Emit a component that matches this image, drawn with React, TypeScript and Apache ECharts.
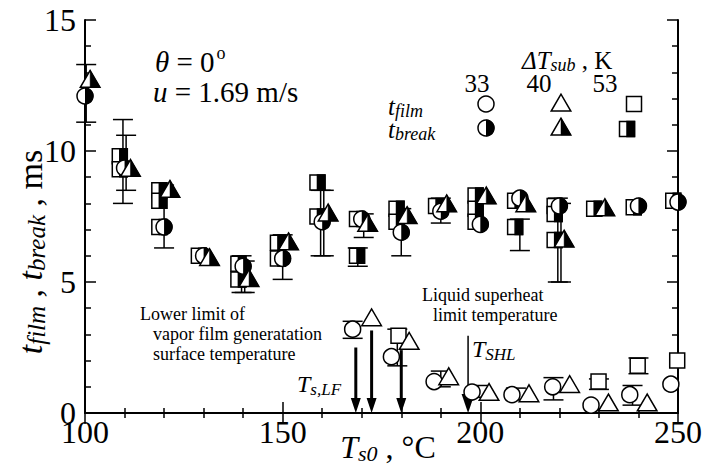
import React, { useEffect, useRef } from 'react';
import * as echarts from 'echarts';

const FONT = '"Liberation Serif", "Times New Roman", serif';

// t_break (half-filled markers), ΔT_sub = 53 K (squares)
const breakSquareX = [108.8, 108.8, 118.8, 118.8, 118.8, 128.8, 138.8, 138.8, 148.8, 148.8, 158.8, 158.8, 168.8, 168.8, 178.8, 178.8, 188.8, 198.8, 198.8, 198.8, 208.8, 208.8, 218.8, 218.8, 218.8, 228.8, 238.8, 248.8];
const breakSquareY = [9.8, 9.3, 8.5, 8.1, 7.1, 6.0, 5.7, 5.1, 6.5, 5.9, 8.8, 7.5, 7.4, 6.0, 7.8, 7.3, 7.9, 8.3, 7.8, 7.3, 8.1, 7.1, 7.9, 7.6, 6.6, 7.8, 7.85, 8.1];
// ΔT_sub = 33 K (circles)
const breakCircleX = [100, 110, 120, 130, 140, 150, 160, 170, 180, 190, 200, 210, 220, 240, 250];
const breakCircleY = [12.1, 9.35, 7.1, 6.0, 5.6, 5.9, 7.3, 7.4, 6.9, 7.7, 7.2, 8.2, 7.9, 7.9, 8.05];
// ΔT_sub = 40 K (triangles)
const breakTriX = [101.3, 111.5, 121.5, 131.5, 141.5, 151.5, 161.5, 171.5, 181.5, 191.5, 201.5, 211.5, 221.2, 231.5];
const breakTriY = [12.7, 9.3, 8.5, 5.9, 5.1, 6.5, 7.6, 7.2, 7.5, 7.95, 8.25, 7.95, 6.6, 7.8];

// t_film (open markers)
const filmCircleX = [167.7, 177.5, 188.3, 197.9, 208, 218.3, 228, 237.8, 248.2];
const filmCircleY = [3.2, 2.15, 1.2, 0.8, 0.7, 1.0, 0.3, 0.7, 1.1];
const filmTriX = [172.5, 182, 192, 202.2, 212.3, 222.6, 232.4, 242.2];
const filmTriY = [3.6, 2.7, 1.35, 0.75, 0.7, 1.05, 0.35, 0.35];
const filmSquareX = [179.3, 229.9, 239.8, 249.8];
const filmSquareY = [2.95, 1.2, 1.8, 2.0];

// error bars
const errX = [100.3, 109.6, 110.4, 120, 139.6, 140.4, 150, 159.6, 160.4, 169, 170.5, 180, 190, 210, 219.6, 220.4, 167.7, 179, 190, 199.5, 209, 218.5, 230, 240, 238.5];
const errLow = [11.1, 8.0, 8.5, 6.3, 4.6, 4.6, 5.1, 6.0, 6.0, 5.6, 6.7, 6.0, 7.25, 6.2, 5.0, 5.0, 2.85, 1.8, 1.0, 0.6, 0.5, 0.5, 0.9, 1.5, 0.3];
const errHigh = [13.3, 11.2, 10.6, 8.7, 6.0, 5.8, 6.8, 8.5, 8.5, 6.3, 7.6, 7.8, 8.2, 7.4, 8.2, 8.0, 3.5, 3.2, 1.6, 1.05, 0.95, 1.35, 1.3, 2.1, 1.05];

// arrows (x, top value, thick flag)
const arrowX = [168.5, 172.5, 180, 196.9];
const arrowTop = [2.5, 3.15, 2.4, 2.95];
const arrowThick = [1, 1, 1, 0];

const xTicks = [100, 150, 200, 250];
const yTicks = [0, 5, 10, 15];
const subCoolings = ['33', '40', '53'];

const LW = 1.5;
const R = 8;

function circleEls(cx: number, cy: number, half: boolean) {
  const els: any[] = [
    { type: 'circle', shape: { cx, cy, r: R }, style: { fill: '#fff', stroke: '#000', lineWidth: LW } },
  ];
  if (half) {
    els.push({ type: 'sector', shape: { cx, cy, r0: 0, r: R + 0.5, startAngle: -Math.PI / 2, endAngle: Math.PI / 2, clockwise: true }, style: { fill: '#000' } });
  }
  return els;
}
function triEls(cx: number, cy: number, half: boolean) {
  const top = cy - 9.8, bot = cy + 7, hw = 9.8;
  const els: any[] = [
    { type: 'polygon', shape: { points: [[cx, top], [cx - hw, bot], [cx + hw, bot]] }, style: { fill: '#fff', stroke: '#000', lineWidth: LW, lineJoin: 'miter' } },
  ];
  if (half) {
    els.push({ type: 'polygon', shape: { points: [[cx, top], [cx, bot], [cx + hw, bot]] }, style: { fill: '#000', stroke: '#000', lineWidth: 0.5 } });
  }
  return els;
}
function sqEls(cx: number, cy: number, half: boolean) {
  const h = 7.5;
  const els: any[] = [
    { type: 'rect', shape: { x: cx - h, y: cy - h, width: 2 * h, height: 2 * h }, style: { fill: '#fff', stroke: '#000', lineWidth: LW } },
  ];
  if (half) {
    els.push({ type: 'rect', shape: { x: cx, y: cy - h, width: h, height: 2 * h }, style: { fill: '#000', stroke: '#000', lineWidth: LW } });
  }
  return els;
}

function markerSeries(name: string, xs: number[], ys: number[], maker: (cx: number, cy: number, half: boolean) => any[], half: boolean, z: number) {
  return {
    type: 'custom',
    name,
    z,
    data: xs.map((x, i) => [x, ys[i]]),
    encode: { x: 0, y: 1 },
    renderItem: (params: any, api: any) => {
      const p = api.coord([api.value(0), api.value(1)]);
      return { type: 'group', children: maker(p[0], p[1], half) };
    },
  };
}

// rich-text styles with explicit line heights so subscripts drop without inflating the box
function richSet(main: number, sub: number, drop: number) {
  const lh = Math.round(main * 1.0);
  return {
    i: { fontFamily: FONT, fontSize: main, fontStyle: 'italic', lineHeight: lh },
    n: { fontFamily: FONT, fontSize: main, lineHeight: lh },
    s: { fontFamily: FONT, fontSize: sub, fontStyle: 'italic', lineHeight: lh - 2 * drop, padding: [2 * drop, 0, 0, 0] },
  };
}

const axisLineStyle = { show: true, lineStyle: { color: '#000', width: 2 } };

export default function App() {
  const ref = useRef<HTMLDivElement>(null);
  useEffect(() => {
    if (!ref.current) return;
    const chart = echarts.init(ref.current, null, { renderer: 'svg' });

    const xAxisCommon = {
      type: 'value',
      min: 100,
      max: 250,
      interval: 50,
      axisLine: axisLineStyle,
      axisTick: { show: true, inside: true, length: 11, lineStyle: { color: '#000', width: 1.5 } },
      minorTick: { show: true, splitNumber: 5, length: 5, lineStyle: { color: '#000', width: 1.5 } },
      splitLine: { show: false },
    };
    const yAxisCommon = {
      type: 'value',
      min: 0,
      max: 15,
      interval: 5,
      axisLine: axisLineStyle,
      axisTick: { show: true, inside: true, length: 11, lineStyle: { color: '#000', width: 1.5 } },
      minorTick: { show: true, splitNumber: 5, length: 6, lineStyle: { color: '#000', width: 1.5 } },
      splitLine: { show: false },
    };

    const tb = { fontFamily: FONT, fill: '#000' };
    const numX = [477, 539, 605];

    const option: any = {
      animation: false,
      backgroundColor: '#fff',
      grid: { left: 85, right: 24, top: 20, bottom: 54 },
      xAxis: [
        {
          ...xAxisCommon,
          position: 'bottom',
          axisLabel: {
            show: true, margin: 7, color: '#000', fontFamily: FONT, fontSize: 32, lineHeight: 24,
            formatter: (v: number) => (xTicks.includes(v) ? String(v) : ''),
          },
        },
        { ...xAxisCommon, position: 'top', axisLabel: { show: false } },
      ],
      yAxis: [
        {
          ...yAxisCommon,
          position: 'left',
          axisLabel: {
            show: true, margin: 9, color: '#000', fontFamily: FONT, fontSize: 32, lineHeight: 24,
            formatter: (v: number) => (yTicks.includes(v) ? String(v) : ''),
          },
        },
        { ...yAxisCommon, position: 'right', axisLabel: { show: false } },
      ],
      series: [
        {
          type: 'custom',
          name: 'err',
          z: 2,
          data: errX.map((x, i) => [x, errLow[i], errHigh[i]]),
          encode: { x: 0, y: [1, 2] },
          renderItem: (params: any, api: any) => {
            const lo = api.coord([api.value(0), api.value(1)]);
            const hi = api.coord([api.value(0), api.value(2)]);
            const w = 10;
            const st = { stroke: '#000', lineWidth: LW };
            return {
              type: 'group',
              children: [
                { type: 'line', shape: { x1: lo[0], y1: lo[1], x2: hi[0], y2: hi[1] }, style: st },
                { type: 'line', shape: { x1: lo[0] - w, y1: lo[1], x2: lo[0] + w, y2: lo[1] }, style: st },
                { type: 'line', shape: { x1: hi[0] - w, y1: hi[1], x2: hi[0] + w, y2: hi[1] }, style: st },
              ],
            };
          },
        },
        {
          type: 'custom',
          name: 'arrows',
          z: 2,
          data: arrowX.map((x, i) => [x, arrowTop[i], arrowThick[i]]),
          encode: { x: 0, y: 1 },
          renderItem: (params: any, api: any) => {
            const top = api.coord([api.value(0), api.value(1)]);
            const bot = api.coord([api.value(0), 0]);
            const thick = api.value(2) === 1;
            const hw = thick ? 5 : 6.5;
            const hh = thick ? 15 : 19;
            return {
              type: 'group',
              children: [
                { type: 'line', shape: { x1: top[0], y1: top[1], x2: bot[0], y2: bot[1] - hh + 2 }, style: { stroke: '#000', lineWidth: thick ? 3 : 1.5 } },
                { type: 'polygon', shape: { points: [[bot[0] - hw, bot[1] - hh], [bot[0] + hw, bot[1] - hh], [bot[0], bot[1]]] }, style: { fill: '#000' } },
              ],
            };
          },
        },
        markerSeries('break53', breakSquareX, breakSquareY, sqEls, true, 3),
        markerSeries('break33', breakCircleX, breakCircleY, circleEls, true, 4),
        markerSeries('break40', breakTriX, breakTriY, triEls, true, 5),
        markerSeries('film53', filmSquareX, filmSquareY, sqEls, false, 3),
        markerSeries('film33', filmCircleX, filmCircleY, circleEls, false, 4),
        markerSeries('film40', filmTriX, filmTriY, triEls, false, 5),
      ],
      graphic: [
        // condition texts
        {
          type: 'text', x: 155, y: 62,
          style: {
            ...tb, verticalAlign: 'middle',
            text: '{i|θ}{n| = 0}{sup|o}',
            rich: {
              i: { fontFamily: FONT, fontSize: 29, fontStyle: 'italic', lineHeight: 30 },
              n: { fontFamily: FONT, fontSize: 29, lineHeight: 30 },
              sup: { fontFamily: FONT, fontSize: 18, lineHeight: 12, padding: [0, 0, 18, 2] },
            },
          },
        },
        {
          type: 'text', x: 153, y: 92,
          style: { ...tb, verticalAlign: 'middle', text: '{i|u}{n| = 1.69 m/s}', rich: richSet(29, 18, 6) },
        },
        // legend header
        {
          type: 'text', x: 522, y: 60,
          style: { ...tb, verticalAlign: 'middle', text: '{i|ΔT}{s|sub}{n| , K}', rich: richSet(25, 18, 5) },
        },
        ...subCoolings.map((s, i) => ({
          type: 'text', x: numX[i], y: 83,
          style: { ...tb, text: s, fontSize: 25, lineHeight: 18, fontFamily: FONT, align: 'center', verticalAlign: 'middle' },
        })),
        {
          type: 'text', x: 388, y: 106,
          style: { ...tb, verticalAlign: 'middle', text: '{i|t}{s|film}', rich: richSet(25, 18, 5) },
        },
        {
          type: 'text', x: 388, y: 129,
          style: { ...tb, verticalAlign: 'middle', text: '{i|t}{s|break}', rich: richSet(25, 18, 5) },
        },
        // legend markers
        { type: 'group', children: circleEls(486, 104, false) },
        { type: 'group', children: triEls(561, 104, false) },
        { type: 'group', children: sqEls(634, 104, false) },
        { type: 'group', children: circleEls(486, 128, true) },
        { type: 'group', children: triEls(561, 128, true) },
        { type: 'group', children: sqEls(627, 129, true) },
        // annotations
        { type: 'text', x: 140, y: 323, style: { ...tb, text: 'Lower limit of', fontSize: 18, fontFamily: FONT, verticalAlign: 'bottom' } },
        { type: 'text', x: 153, y: 343, style: { ...tb, text: 'vapor film generatation', fontSize: 18, fontFamily: FONT, verticalAlign: 'bottom' } },
        { type: 'text', x: 153, y: 363, style: { ...tb, text: 'surface temperature', fontSize: 18, fontFamily: FONT, verticalAlign: 'bottom' } },
        { type: 'text', x: 422, y: 304, style: { ...tb, text: 'Liquid superheat', fontSize: 18, fontFamily: FONT, verticalAlign: 'bottom' } },
        { type: 'text', x: 433, y: 324, style: { ...tb, text: 'limit temperature', fontSize: 18, fontFamily: FONT, verticalAlign: 'bottom' } },
        {
          type: 'text', x: 297, y: 384,
          style: { ...tb, verticalAlign: 'middle', text: '{i|T}{s|s,LF}', rich: richSet(24, 17, 5) },
        },
        {
          type: 'text', x: 472, y: 349,
          style: { ...tb, verticalAlign: 'middle', text: '{i|T}{s|SHL}', rich: richSet(24, 17, 5) },
        },
        // axis titles
        {
          type: 'text', x: 388, y: 447,
          style: { ...tb, align: 'center', verticalAlign: 'middle', text: '{i|T}{s|s0}{n| , °C}', rich: richSet(32, 22, 6) },
        },
        {
          type: 'text', x: 30, y: 252, rotation: Math.PI / 2,
          style: { ...tb, align: 'center', verticalAlign: 'middle', text: '{i|t}{s|film}{n| , }{i|t}{s|break}{n| , ms}', rich: richSet(34, 25, 6) },
        },
      ],
    };
    chart.setOption(option);
    return () => chart.dispose();
  }, []);
  return (
    <div
      ref={ref}
      style={{ position: 'fixed', left: 0, top: 0, width: 705, height: 467, background: '#fff' }}
    />
  );
}
